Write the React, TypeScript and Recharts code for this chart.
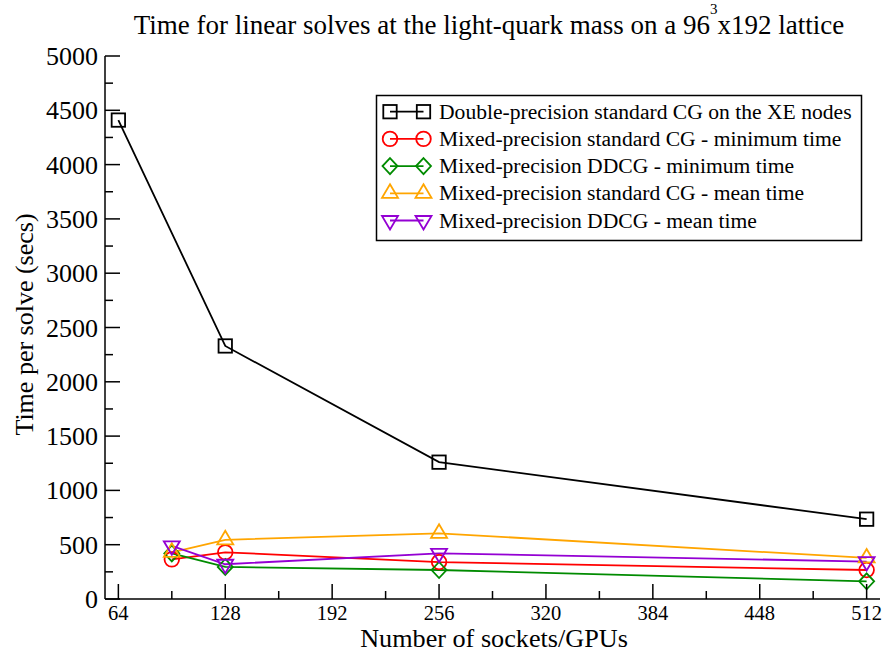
import React from 'react';
import { LineChart, Line, XAxis, YAxis } from 'recharts';

// ---------- data ----------
const xTicks = [64, 96, 128, 160, 192, 224, 256, 288, 320, 352, 384, 416, 448, 480, 512];
const yTicks = [0, 250, 500, 750, 1000, 1250, 1500, 1750, 2000, 2250, 2500, 2750, 3000, 3250, 3500, 3750, 4000, 4250, 4500, 4750, 5000];

const cpuSockets = [64, 128, 256, 512];
const dpStandardCG = [4410, 2330, 1260, 735];

const gpuCount = [96, 128, 256, 512];
const mpCGMin = [365, 430, 340, 267];
const mpDDCGMin = [420, 295, 267, 163];
const mpCGMean = [430, 545, 605, 378];
const mpDDCGMean = [490, 320, 421, 345];

const seriesNames = [
  'Double-precision standard CG on the XE nodes',
  'Mixed-precision standard CG - minimum time',
  'Mixed-precision DDCG - minimum time',
  'Mixed-precision standard CG - mean time',
  'Mixed-precision DDCG - mean time',
];
const seriesColors = ['#000000', '#ff0000', '#008b00', '#ffa500', '#9400d3'];
const seriesShapes = ['square', 'circle', 'diamond', 'up', 'down'];

const zip = (xs: number[], ys: number[]) => xs.map((x, i) => ({ x, y: ys[i] }));
const seriesData = [
  zip(cpuSockets, dpStandardCG),
  zip(gpuCount, mpCGMin),
  zip(gpuCount, mpDDCGMin),
  zip(gpuCount, mpCGMean),
  zip(gpuCount, mpDDCGMean),
];

const FONT = '"Liberation Serif", "DejaVu Serif", serif';
const M = 10; // tickMargin

function Marker({ shape, cx, cy, color }: any) {
  const sw = 1.8;
  const common = { fill: 'none', stroke: color, strokeWidth: sw };
  switch (shape) {
    case 'square':
      return <rect x={cx - 6.7} y={cy - 6.7} width={13.4} height={13.4} {...common} />;
    case 'circle':
      return <circle cx={cx} cy={cy} r={7.3} {...common} />;
    case 'diamond':
      return <polygon points={`${cx},${cy - 8} ${cx + 7.5},${cy} ${cx},${cy + 8} ${cx - 7.5},${cy}`} {...common} />;
    case 'up':
      return <polygon points={`${cx},${cy - 9} ${cx + 8},${cy + 4.5} ${cx - 8},${cy + 4.5}`} {...common} />;
    case 'down':
      return <polygon points={`${cx},${cy + 9} ${cx + 8},${cy - 4.5} ${cx - 8},${cy - 4.5}`} {...common} />;
    default:
      return null;
  }
}

function makeTick(orient: string, showLabel: boolean) {
  return (props: any) => {
    const { x, y, payload } = props;
    const v = payload.value;
    const isX = orient === 'bottom' || orient === 'top';
    const major = isX ? v % 64 === 0 : v % 500 === 0;
    const len = major ? 15 : 8;
    let ax = x, ay = y, x2 = x, y2 = y;
    if (orient === 'bottom') { ay = y - M; y2 = ay - len; }
    else if (orient === 'top') { ay = y + M; y2 = ay + len; }
    else if (orient === 'left') { ax = x + M; x2 = ax + len; }
    else { ax = x - M; x2 = ax - len; }
    if (orient === 'bottom' || orient === 'top') x2 = ax;
    else y2 = ay;
    return (
      <g>
        <line x1={ax} y1={ay} x2={x2} y2={y2} stroke="#000" strokeWidth={1.5} />
        {showLabel && major && orient === 'bottom' && (
          <text x={ax} y={ay + 20.5} textAnchor="middle" fontSize={20.5} fontFamily={FONT} fill="#000">{v}</text>
        )}
        {showLabel && major && orient === 'left' && (
          <text x={ax - 7} y={ay + 9} textAnchor="end" fontSize={26} fontFamily={FONT} fill="#000">{v}</text>
        )}
      </g>
    );
  };
}

export default function App() {
  return (
    <div style={{ position: 'absolute', left: 0, top: 0, width: 886, height: 652, background: '#fff' }}>
      <LineChart width={886} height={652} margin={{ top: 56, right: 6, bottom: 0, left: 0 }}>
        <XAxis
          xAxisId="b"
          dataKey="x"
          type="number"
          domain={[56, 520]}
          ticks={xTicks}
          interval={0}
          tickSize={0}
          tickMargin={M}
          height={53}
          axisLine={{ stroke: '#000', strokeWidth: 1.5 }}
          tick={makeTick('bottom', true)}
          allowDuplicatedCategory={false}
          label={{
            content: (p: any) => {
              const vb = p.viewBox || { x: 105, y: 599, width: 775, height: 53 };
              return (
                <text x={vb.x + vb.width / 2 + 1.5} y={vb.y + 47.5} textAnchor="middle" fontSize={26.2} fontFamily={FONT} fill="#000">
                  Number of sockets/GPUs
                </text>
              );
            },
          }}
        />
        <XAxis
          xAxisId="t"
          orientation="top"
          dataKey="x"
          type="number"
          domain={[56, 520]}
          ticks={xTicks}
          interval={0}
          tickSize={0}
          tickMargin={M}
          height={0}
          axisLine={{ stroke: '#000', strokeWidth: 1.5 }}
          tick={makeTick('top', false)}
        />
        <YAxis
          yAxisId="l"
          type="number"
          domain={[0, 5000]}
          ticks={yTicks}
          interval={0}
          tickSize={0}
          tickMargin={M}
          width={105}
          axisLine={{ stroke: '#000', strokeWidth: 1.5 }}
          tick={makeTick('left', true)}
          label={{
            content: (p: any) => {
              const vb = p.viewBox || { x: 0, y: 56, width: 105, height: 543 };
              const cx = vb.x + 33;
              const cy = vb.y + vb.height / 2 - 3;
              return (
                <text x={cx} y={cy} transform={`rotate(-90 ${cx} ${cy})`} textAnchor="middle" fontSize={26} fontFamily={FONT} fill="#000">
                  Time per solve (secs)
                </text>
              );
            },
          }}
        />
        <YAxis
          yAxisId="r"
          orientation="right"
          type="number"
          domain={[0, 5000]}
          ticks={yTicks}
          interval={0}
          tickSize={0}
          tickMargin={M}
          width={0}
          axisLine={{ stroke: '#000', strokeWidth: 1.5 }}
          tick={makeTick('right', false)}
        />
        {seriesData.map((d, si) => (
          <Line
            key={seriesNames[si]}
            xAxisId="b"
            yAxisId="l"
            data={d}
            dataKey="y"
            name={seriesNames[si]}
            type="linear"
            stroke={seriesColors[si]}
            strokeWidth={1.8}
            isAnimationActive={false}
            activeDot={false}
            dot={(p: any) => (
              <Marker key={`${si}-${p.index}`} shape={seriesShapes[si]} cx={p.cx} cy={p.cy} color={seriesColors[si]} />
            )}
          />
        ))}
      </LineChart>
      <svg width={886} height={652} style={{ position: 'absolute', left: 0, top: 0, pointerEvents: 'none' }}>
        <text x={489} y={34} textAnchor="middle" fontSize={27} fontFamily={FONT} fill="#000">{'Time for linear solves at the light-quark mass on a 96'}<tspan fontSize={15} dy={-20}>{'3'}</tspan><tspan dy={20}>{'x192 lattice'}</tspan></text>
        <rect x={376.5} y={95.5} width={485} height={145} fill="#fff" stroke="#000" strokeWidth={1.5} />
        {seriesNames.map((n, i) => {
          const cy = 111.7 + i * 27.2;
          return (
            <g key={n}>
              <line x1={390} y1={cy} x2={423.5} y2={cy} stroke={seriesColors[i]} strokeWidth={1.8} />
              <Marker shape={seriesShapes[i]} cx={390} cy={cy} color={seriesColors[i]} />
              <Marker shape={seriesShapes[i]} cx={423.5} cy={cy} color={seriesColors[i]} />
              <text x={439} y={cy + 7} fontSize={21.6} fontFamily={FONT} fill="#000">{n}</text>
            </g>
          );
        })}
      </svg>
    </div>
  );
}
